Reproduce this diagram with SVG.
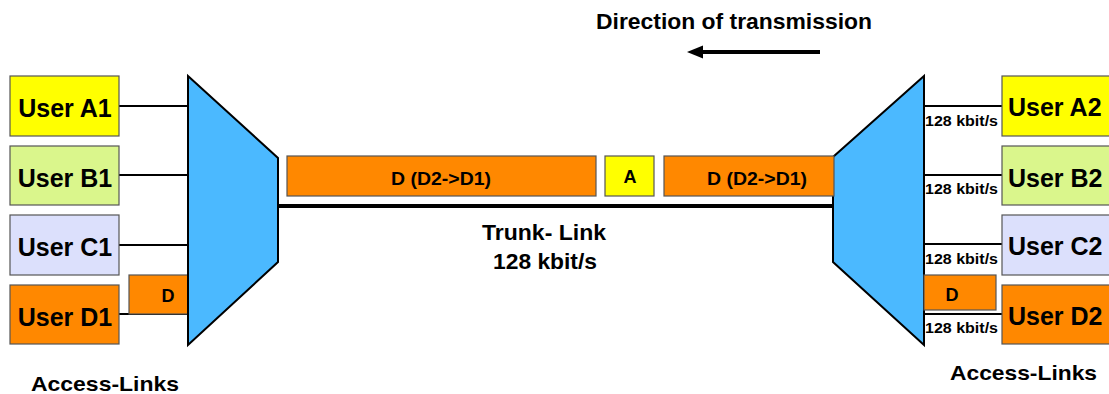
<svg xmlns="http://www.w3.org/2000/svg" width="1109" height="394" viewBox="0 0 1109 394">
<style>
text{font-family:"Liberation Sans",Arial,sans-serif;font-weight:bold;fill:#000}
.box{stroke:#555;stroke-width:1.2}
.user{font-size:25px}
.rate{font-size:15px}
.pkt{font-size:18px}
.mux{fill:#4BB9FF;stroke:#000;stroke-width:2}
.wire{stroke:#000;stroke-width:2;fill:none}
</style>
<defs>
<marker id="ah" viewBox="0 0 16 14" refX="1" refY="7" markerWidth="16" markerHeight="14" markerUnits="userSpaceOnUse" orient="auto-start-reverse">
<path d="M0,7 L16,0 L16,14 Z" fill="#000"/>
</marker>
</defs>
<rect width="1109" height="394" fill="#fff"/>

<g id="connectors">
<line class="wire" x1="119" y1="106" x2="188" y2="106"/>
<line class="wire" x1="119" y1="175" x2="188" y2="175"/>
<line class="wire" x1="119" y1="245" x2="188" y2="245"/>
<line class="wire" x1="119" y1="314" x2="188" y2="314"/>
<line class="wire" x1="924" y1="106" x2="1002" y2="106"/>
<line class="wire" x1="924" y1="175" x2="1002" y2="175"/>
<line class="wire" x1="924" y1="244" x2="1002" y2="244"/>
<line class="wire" x1="924" y1="314" x2="1002" y2="314"/>
<line id="trunk" x1="278" y1="206" x2="834" y2="206" stroke="#000" stroke-width="4"/>
<line id="direction-arrow" x1="820" y1="52" x2="702" y2="52" stroke="#000" stroke-width="4"/>
<path d="M687,52 L703,45.5 L703,58.5 Z" fill="#000"/>
</g>

<g id="user-a1"><rect class="box" x="10" y="76" width="109" height="60" fill="#FFFF00"/><text class="user" x="65" y="117" text-anchor="middle">User A1</text></g>
<g id="user-b1"><rect class="box" x="10" y="146" width="109" height="59" fill="#DAF68C"/><text class="user" x="65" y="186.5" text-anchor="middle">User B1</text></g>
<g id="user-c1"><rect class="box" x="10" y="215" width="109" height="60" fill="#DCE0FC"/><text class="user" x="65" y="256" text-anchor="middle">User C1</text></g>
<g id="user-d1"><rect class="box" x="10" y="285" width="109" height="59" fill="#FF8800"/><text class="user" x="65" y="325.5" text-anchor="middle">User D1</text></g>

<g id="packet-d-left"><rect class="box" x="129" y="275" width="59" height="39" fill="#FF8800"/><text class="pkt" x="168" y="302" text-anchor="middle">D</text></g>

<g id="mux-left"><polygon class="mux" points="188,76 278,158 278,262 188,345"/></g>
<g id="mux-right"><polygon class="mux" points="924,76 833,157 833,262 924,345"/></g>

<g id="packet-d1"><rect class="box" x="287" y="156" width="309" height="40" fill="#FF8800"/><text class="pkt" x="441" y="185" text-anchor="middle" textLength="100" lengthAdjust="spacingAndGlyphs">D (D2-&gt;D1)</text></g>
<g id="packet-a"><rect class="box" x="605" y="156" width="49" height="40" fill="#FFFF00"/><text class="pkt" x="630" y="183" text-anchor="middle">A</text></g>
<g id="packet-d2"><rect class="box" x="664" y="156" width="170" height="40" fill="#FF8800"/><text class="pkt" x="757" y="185" text-anchor="middle" textLength="100" lengthAdjust="spacingAndGlyphs">D (D2-&gt;D1)</text></g>

<g id="packet-d-right"><rect class="box" x="924" y="275" width="72" height="35" fill="#FF8800"/><text class="pkt" x="952" y="301" text-anchor="middle">D</text></g>

<g id="user-a2"><rect class="box" x="1002" y="76" width="120" height="60" fill="#FFFF00"/><text class="user" x="1008" y="116">User A2</text></g>
<g id="user-b2"><rect class="box" x="1002" y="146" width="120" height="59" fill="#DAF68C"/><text class="user" x="1008" y="186.5">User B2</text></g>
<g id="user-c2"><rect class="box" x="1002" y="215" width="120" height="60" fill="#DCE0FC"/><text class="user" x="1008" y="255">User C2</text></g>
<g id="user-d2"><rect class="box" x="1002" y="285" width="120" height="59" fill="#FF8800"/><text class="user" x="1008" y="325">User D2</text></g>

<g id="rate-labels">
<text class="rate" x="925" y="126" textLength="73" lengthAdjust="spacingAndGlyphs">128 kbit/s</text>
<text class="rate" x="925" y="194" textLength="73" lengthAdjust="spacingAndGlyphs">128 kbit/s</text>
<text class="rate" x="925" y="264" textLength="73" lengthAdjust="spacingAndGlyphs">128 kbit/s</text>
<text class="rate" x="925" y="333" textLength="73" lengthAdjust="spacingAndGlyphs">128 kbit/s</text>
</g>

<g id="labels">
<text x="596" y="29" font-size="22.5" textLength="276" lengthAdjust="spacingAndGlyphs">Direction of transmission</text>
<text x="544" y="240" font-size="22" text-anchor="middle" textLength="124" lengthAdjust="spacingAndGlyphs">Trunk- Link</text>
<text x="545" y="269" font-size="22" text-anchor="middle" textLength="104" lengthAdjust="spacingAndGlyphs">128 kbit/s</text>
<text x="31" y="391" font-size="21" textLength="148" lengthAdjust="spacingAndGlyphs">Access-Links</text>
<text x="950" y="380" font-size="21" textLength="147" lengthAdjust="spacingAndGlyphs">Access-Links</text>
</g>
</svg>
